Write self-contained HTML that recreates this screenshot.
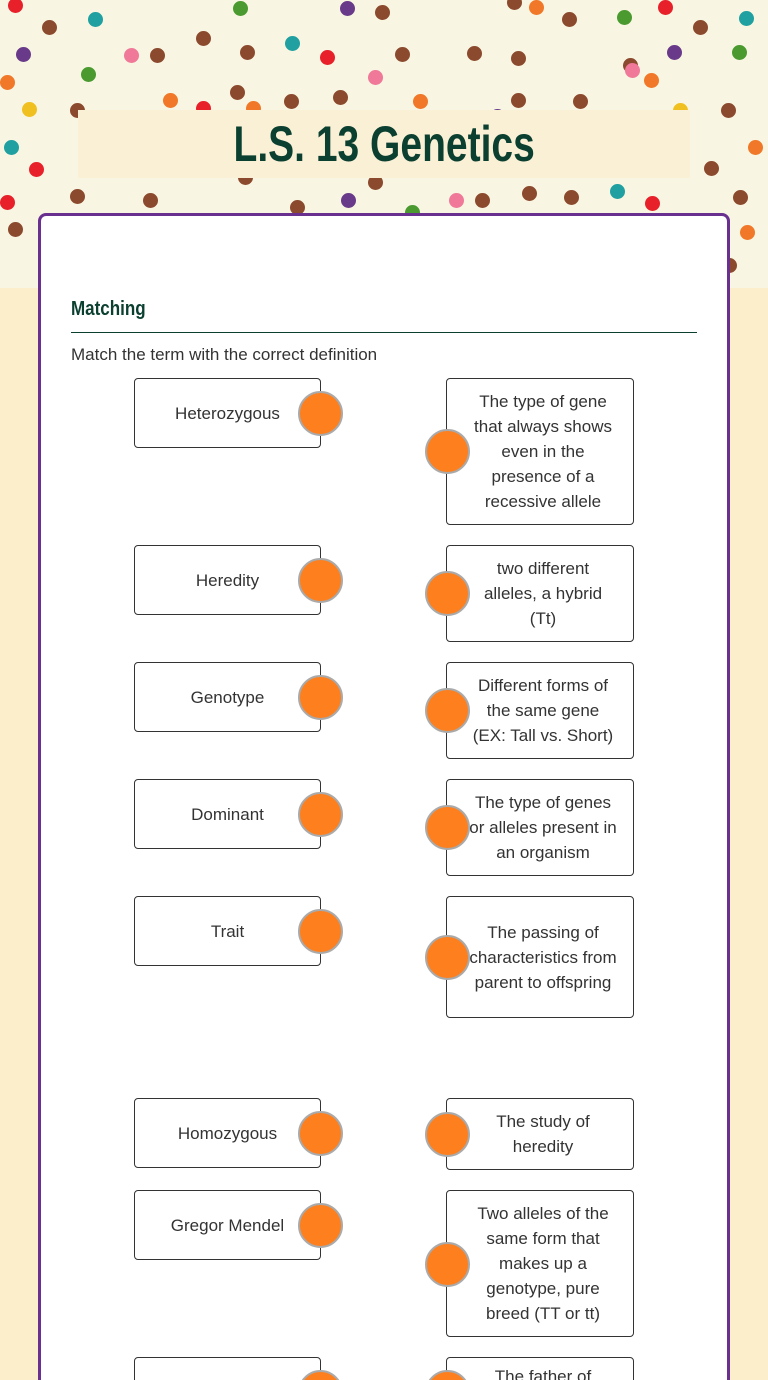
<!DOCTYPE html>
<html style="margin:0;width:768px;height:1380px;overflow:hidden"><head><meta charset="utf-8"><style>
body{margin:0;width:768px;height:1380px;overflow:hidden;position:relative;background:#fdeecb;font-family:"Liberation Sans",sans-serif;color:#333}
#wrap{position:absolute;left:0;top:0;width:768px;height:1380px;overflow:hidden}
#top{position:absolute;left:0;top:0;width:768px;height:288px;background:#f8f6e2;overflow:hidden}
.d{position:absolute;width:15px;height:15px;border-radius:50%}
#title{position:absolute;left:78px;top:110px;width:612px;height:68px;background:#faf0d6;text-align:center;font:bold 50px/68px "Liberation Sans",sans-serif;color:#0b3f30}
#title span{display:inline-block;transform:scaleX(0.78)}
#card{position:absolute;left:38px;top:213px;width:686px;height:1200px;background:#fff;border:3px solid #6a3090;border-radius:8px}
h2{position:absolute;left:71px;top:298px;margin:0;font:bold 20px "Liberation Sans",sans-serif;color:#0b3f30;transform:scaleX(0.85);transform-origin:left}
#hr{position:absolute;left:71px;top:332px;width:626px;height:1px;background:#0b3f30}
#ins{position:absolute;left:71px;top:345px;font-size:17px}
.b{position:absolute;border:1px solid #333;border-radius:4px;background:#fff;box-sizing:border-box;display:flex;align-items:center;justify-content:center;text-align:center;font-size:17px;line-height:25px}
.l{left:134px;width:187px;height:70px}
.r{left:446px;width:188px;padding:0 16px 0 22px}
.c{position:absolute;border-radius:50%;background:#fd7f1e;border:2px solid #aaa;box-sizing:border-box;width:45px;height:45px}
</style></head><body><div id="wrap">
<div id="top">
<div class="d" style="left:8px;top:-2px;background:#e8202a"></div>
<div class="d" style="left:42px;top:20px;background:#8b4a2e"></div>
<div class="d" style="left:88px;top:12px;background:#20a0a0"></div>
<div class="d" style="left:233px;top:1px;background:#4a9a30"></div>
<div class="d" style="left:340px;top:1px;background:#6a3a8a"></div>
<div class="d" style="left:375px;top:5px;background:#8b4a2e"></div>
<div class="d" style="left:507px;top:-5px;background:#8b4a2e"></div>
<div class="d" style="left:529px;top:0px;background:#f07828"></div>
<div class="d" style="left:562px;top:12px;background:#8b4a2e"></div>
<div class="d" style="left:617px;top:10px;background:#4a9a30"></div>
<div class="d" style="left:658px;top:0px;background:#e8202a"></div>
<div class="d" style="left:693px;top:20px;background:#8b4a2e"></div>
<div class="d" style="left:739px;top:11px;background:#20a0a0"></div>
<div class="d" style="left:16px;top:47px;background:#6a3a8a"></div>
<div class="d" style="left:124px;top:48px;background:#f07898"></div>
<div class="d" style="left:150px;top:48px;background:#8b4a2e"></div>
<div class="d" style="left:81px;top:67px;background:#4a9a30"></div>
<div class="d" style="left:196px;top:31px;background:#8b4a2e"></div>
<div class="d" style="left:240px;top:45px;background:#8b4a2e"></div>
<div class="d" style="left:285px;top:36px;background:#20a0a0"></div>
<div class="d" style="left:320px;top:50px;background:#e8202a"></div>
<div class="d" style="left:368px;top:70px;background:#f07898"></div>
<div class="d" style="left:395px;top:47px;background:#8b4a2e"></div>
<div class="d" style="left:467px;top:46px;background:#8b4a2e"></div>
<div class="d" style="left:511px;top:51px;background:#8b4a2e"></div>
<div class="d" style="left:623px;top:58px;background:#8b4a2e"></div>
<div class="d" style="left:667px;top:45px;background:#6a3a8a"></div>
<div class="d" style="left:732px;top:45px;background:#4a9a30"></div>
<div class="d" style="left:0px;top:75px;background:#f07828"></div>
<div class="d" style="left:22px;top:102px;background:#f0c020"></div>
<div class="d" style="left:70px;top:103px;background:#8b4a2e"></div>
<div class="d" style="left:163px;top:93px;background:#f07828"></div>
<div class="d" style="left:196px;top:101px;background:#e8202a"></div>
<div class="d" style="left:246px;top:101px;background:#f07828"></div>
<div class="d" style="left:284px;top:94px;background:#8b4a2e"></div>
<div class="d" style="left:333px;top:90px;background:#8b4a2e"></div>
<div class="d" style="left:413px;top:94px;background:#f07828"></div>
<div class="d" style="left:490px;top:109px;background:#6a3a8a"></div>
<div class="d" style="left:511px;top:93px;background:#8b4a2e"></div>
<div class="d" style="left:573px;top:94px;background:#8b4a2e"></div>
<div class="d" style="left:625px;top:63px;background:#f07898"></div>
<div class="d" style="left:644px;top:73px;background:#f07828"></div>
<div class="d" style="left:673px;top:103px;background:#f0c020"></div>
<div class="d" style="left:721px;top:103px;background:#8b4a2e"></div>
<div class="d" style="left:4px;top:140px;background:#20a0a0"></div>
<div class="d" style="left:29px;top:162px;background:#e8202a"></div>
<div class="d" style="left:96px;top:142px;background:#f07828"></div>
<div class="d" style="left:128px;top:140px;background:#f0c020"></div>
<div class="d" style="left:230px;top:85px;background:#8b4a2e"></div>
<div class="d" style="left:748px;top:140px;background:#f07828"></div>
<div class="d" style="left:704px;top:161px;background:#8b4a2e"></div>
<div class="d" style="left:0px;top:195px;background:#e8202a"></div>
<div class="d" style="left:8px;top:222px;background:#8b4a2e"></div>
<div class="d" style="left:740px;top:225px;background:#f07828"></div>
<div class="d" style="left:733px;top:190px;background:#8b4a2e"></div>
<div class="d" style="left:722px;top:258px;background:#8b4a2e"></div>
<div class="d" style="left:70px;top:189px;background:#8b4a2e"></div>
<div class="d" style="left:143px;top:193px;background:#8b4a2e"></div>
<div class="d" style="left:290px;top:200px;background:#8b4a2e"></div>
<div class="d" style="left:341px;top:193px;background:#6a3a8a"></div>
<div class="d" style="left:449px;top:193px;background:#f07898"></div>
<div class="d" style="left:475px;top:193px;background:#8b4a2e"></div>
<div class="d" style="left:522px;top:186px;background:#8b4a2e"></div>
<div class="d" style="left:564px;top:190px;background:#8b4a2e"></div>
<div class="d" style="left:610px;top:184px;background:#20a0a0"></div>
<div class="d" style="left:645px;top:196px;background:#e8202a"></div>
<div class="d" style="left:238px;top:170px;background:#8b4a2e"></div>
<div class="d" style="left:368px;top:175px;background:#8b4a2e"></div>
<div class="d" style="left:405px;top:205px;background:#4a9a30"></div>
</div>
<div id="title"><span>L.S. 13 Genetics</span></div>
<div id="card"></div>
<h2>Matching</h2><div id="hr"></div>
<div id="ins">Match the term with the correct definition</div>

<div class="b l" style="top:378px">Heterozygous</div><div class="c" style="left:298px;top:391px"></div>
<div class="b r" style="top:378px;height:147px">The type of gene that always shows even in the presence of a recessive allele</div><div class="c" style="left:425px;top:429px"></div>

<div class="b l" style="top:545px">Heredity</div><div class="c" style="left:298px;top:558px"></div>
<div class="b r" style="top:545px;height:97px">two different alleles, a hybrid (Tt)</div><div class="c" style="left:425px;top:571px"></div>

<div class="b l" style="top:662px">Genotype</div><div class="c" style="left:298px;top:675px"></div>
<div class="b r" style="top:662px;height:97px">Different forms of the same gene (EX: Tall vs. Short)</div><div class="c" style="left:425px;top:688px"></div>

<div class="b l" style="top:779px">Dominant</div><div class="c" style="left:298px;top:792px"></div>
<div class="b r" style="top:779px;height:97px">The type of genes or alleles present in an organism</div><div class="c" style="left:425px;top:805px"></div>

<div class="b l" style="top:896px">Trait</div><div class="c" style="left:298px;top:909px"></div>
<div class="b r" style="top:896px;height:122px">The passing of characteristics from parent to offspring</div><div class="c" style="left:425px;top:935px"></div>

<div class="b l" style="top:1098px">Homozygous</div><div class="c" style="left:298px;top:1111px"></div>
<div class="b r" style="top:1098px;height:72px">The study of heredity</div><div class="c" style="left:425px;top:1112px"></div>

<div class="b l" style="top:1190px">Gregor Mendel</div><div class="c" style="left:298px;top:1203px"></div>
<div class="b r" style="top:1190px;height:147px">Two alleles of the same form that makes up a genotype, pure breed (TT or tt)</div><div class="c" style="left:425px;top:1242px"></div>

<div class="b l" style="top:1357px"></div><div class="c" style="left:298px;top:1370px"></div>
<div class="b r" style="top:1357px;height:100px;align-items:flex-start;padding-top:6px">The father of</div><div class="c" style="left:425px;top:1370px"></div>
</div></body></html>
